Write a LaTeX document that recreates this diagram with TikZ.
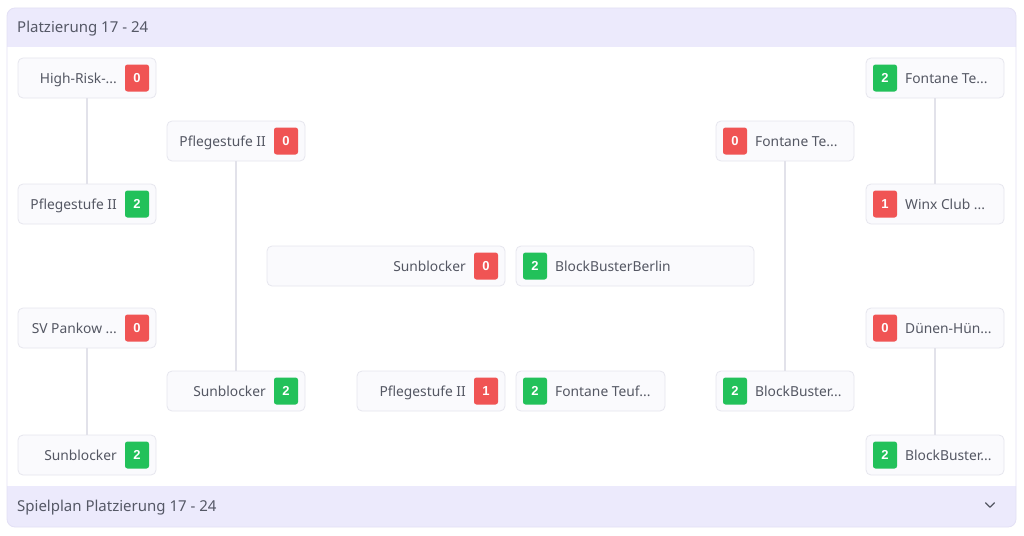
\documentclass[tikz,border=0pt]{standalone}
\usepackage{fontspec}
\setmainfont{Noto Sans}
\newfontfamily\badgefont{Liberation Sans}
\usetikzlibrary{calc}
\definecolor{hdr}{HTML}{ECEAFC}
\definecolor{cardline}{HTML}{E3E0F5}
\definecolor{boxfill}{HTML}{FAFAFD}
\definecolor{boxline}{HTML}{E6E6EE}
\definecolor{conn}{HTML}{E2E2EA}
\definecolor{txtc}{HTML}{545763}
\definecolor{hdrtxt}{HTML}{555866}
\definecolor{winc}{HTML}{22C15A}
\definecolor{losc}{HTML}{F05454}
\tikzset{
  tbox/.style={draw=boxline, line width=0.8pt, fill=boxfill, rounded corners=5pt, inner sep=0pt},
  badge/.style={rounded corners=2.5pt, minimum width=24pt, minimum height=27pt, inner sep=0pt, text=white, font=\badgefont\bfseries\fontsize{13}{15}\selectfont},
  txt/.style={text=txtc, inner sep=0pt, font=\fontsize{13.8}{16}\selectfont},
  conline/.style={draw=conn, line width=1.1pt},
  htxt/.style={text=hdrtxt, inner sep=0pt, anchor=base west, font=\fontsize{15}{17}\selectfont}
}
% left-style team box: badge on the right
\newcommand\teamL[7]{%
  \node[tbox, minimum width={(#3-#2)*1pt}, minimum height=40pt] (#1) at ({(#2+#3)/2},{#4+20}) {};
  \node[badge, fill=#7] (#1s) at ({#3-19},{#4+20}) {#6};
  \node[txt, anchor=base east] (#1t) at ({#3-39},{#4+25}) {#5};
}
% right-style team box: badge on the left
\newcommand\teamR[7]{%
  \node[tbox, minimum width={(#3-#2)*1pt}, minimum height=40pt] (#1) at ({(#2+#3)/2},{#4+20}) {};
  \node[badge, fill=#7] (#1s) at ({#2+19},{#4+20}) {#6};
  \node[txt, anchor=base west] (#1t) at ({#2+39},{#4+25}) {#5};
}
\begin{document}
\begin{tikzpicture}[x=1pt,y=-1pt]
\useasboundingbox (0,0) rectangle (1024,535);
\fill[white] (0,0) rectangle (1024,535);
% card
\fill[white, rounded corners=8pt] (7,8) rectangle (1016,527);
\fill[hdr] (7,47) {[rounded corners=8pt] -- (7,8) -- (1016,8)} -- (1016,47) -- cycle;
\fill[hdr] (7,486) {[rounded corners=8pt] -- (7,527) -- (1016,527)} -- (1016,486) -- cycle;
\draw[cardline, line width=0.8pt, rounded corners=8pt] (7,8) rectangle (1016,527);
\node[htxt] (title) at (17,32.4) {Platzierung 17 - 24};
\node[htxt] (foot) at (17,511) {Spielplan Platzierung 17 - 24};
\coordinate (chev) at (990,505);
\draw[txtc, line width=1.2pt, line cap=round, line join=round] ($(chev)+(-4.5,-2.2)$) -- ($(chev)+(0,2.2)$) -- ($(chev)+(4.5,-2.2)$);

% column 1
\teamL{a1}{18}{156}{58}{High-Risk-...}{0}{losc}
\teamL{a2}{18}{156}{184}{Pflegestufe II}{2}{winc}
\teamL{a3}{18}{156}{308}{SV Pankow ...}{0}{losc}
\teamL{a4}{18}{156}{435}{Sunblocker}{2}{winc}
% column 2
\teamL{b1}{167}{305}{121}{Pflegestufe II}{0}{losc}
\teamL{b2}{167}{305}{371}{Sunblocker}{2}{winc}
% centre
\teamL{c1}{267}{505}{246}{Sunblocker}{0}{losc}
\teamR{c2}{516}{754}{246}{BlockBusterBerlin}{2}{winc}
\teamL{d1}{357}{505}{371}{Pflegestufe II}{1}{losc}
\teamR{d2}{516}{665}{371}{Fontane Teuf...}{2}{winc}
% column 3
\teamR{e1}{716}{854}{121}{Fontane Te...}{0}{losc}
\teamR{e2}{716}{854}{371}{BlockBuster...}{2}{winc}
% column 4
\teamR{f1}{866}{1004}{58}{Fontane Te...}{2}{winc}
\teamR{f2}{866}{1004}{184}{Winx Club ...}{1}{losc}
\teamR{f3}{866}{1004}{308}{Dünen-Hün...}{0}{losc}
\teamR{f4}{866}{1004}{435}{BlockBuster...}{2}{winc}

% connectors
\draw[conline] (a1.south) -- (a2.north);
\draw[conline] (a3.south) -- (a4.north);
\draw[conline] (b1.south) -- (b2.north);
\draw[conline] (e1.south) -- (e2.north);
\draw[conline] (f1.south) -- (f2.north);
\draw[conline] (f3.south) -- (f4.north);
\end{tikzpicture}
\end{document}
